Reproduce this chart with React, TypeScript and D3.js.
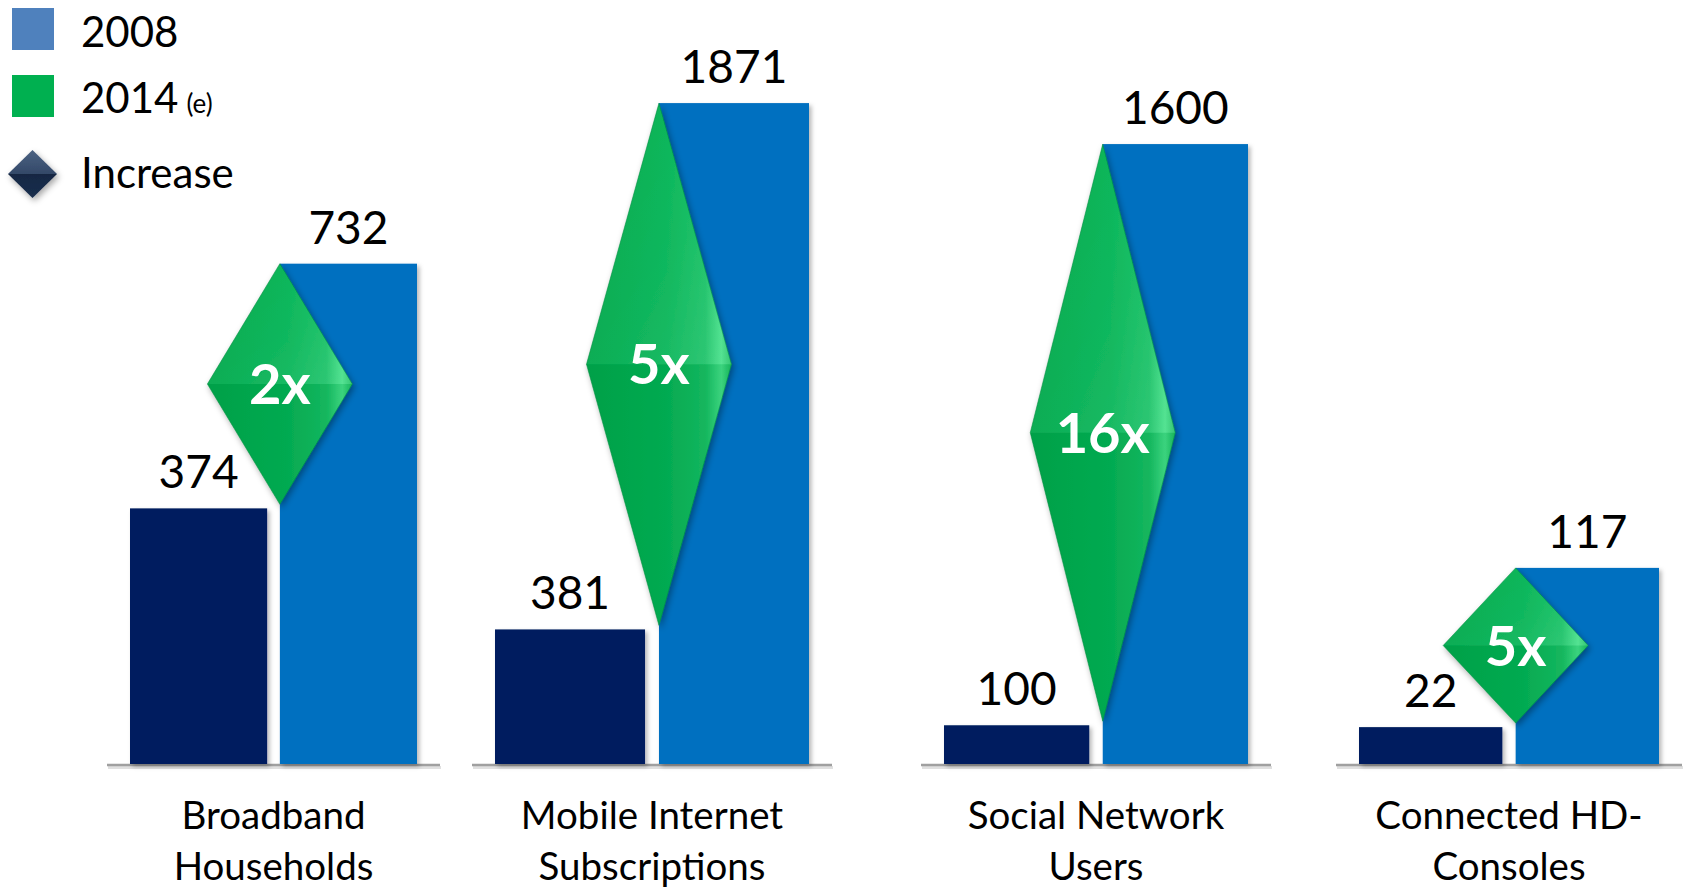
import React from "react";
import * as d3 from "d3";

// Two-period comparison per market, each panel on its own scale
const categories: string[][] = [
  ["Broadband", "Households"],
  ["Mobile Internet", "Subscriptions"],
  ["Social Network", "Users"],
  ["Connected HD-", "Consoles"],
];
const series = ["2008", "2014"];
const values2008 = [374, 381, 100, 22];
const values2014 = [732, 1871, 1600, 117];
const increaseLabels = ["2x", "5x", "16x", "5x"];
// upper bound of each panel's value axis
const axisMax = [1030, 1993, 1817, 420];

const legendItems = [
  { label: "2008", note: "" },
  { label: "2014", note: "(e)" },
  { label: "Increase", note: "" },
];

const W = 1688;
const H = 889;
const BASE_Y = 764;
const TOP_Y = 60;
// horizontal extent of the bar pair in each panel
const PANEL_X: [number, number][] = [
  [130, 417],
  [495, 809],
  [944, 1248],
  [1359, 1659],
];
const AXIS_OVERHANG = 23;
const DIAMOND_W = 145;

const COLOR_2008 = "#001F5F";
const COLOR_2014 = "#0070C0";
const FONT = "Lato, 'Open Sans', sans-serif";

function Diamond({ cx, yTop, yBot, w, id }: { cx: number; yTop: number; yBot: number; w: number; id: string }) {
  const cy = (yTop + yBot) / 2;
  const hw = w / 2;
  const full = `${cx},${yTop} ${cx + hw},${cy} ${cx},${yBot} ${cx - hw},${cy}`;
  const upper = `${cx},${yTop} ${cx + hw},${cy} ${cx - hw},${cy}`;
  const lower = `${cx - hw},${cy} ${cx + hw},${cy} ${cx},${yBot}`;
  return (
    <g filter="url(#shadowDiamond)">
      <polygon points={full} fill={`url(#gemGrad${id})`} />
      <polygon points={upper} fill="url(#gemUpper)" />
      <polygon points={lower} fill="#000" opacity={0.05} />
      <polygon points={full} fill="none" stroke="#008a3c" strokeOpacity={0.5} strokeWidth={1} />
    </g>
  );
}

export default function App() {
  const panels = categories.map((cat, i) => {
    const x = d3
      .scaleBand<string>()
      .domain(series)
      .range(PANEL_X[i])
      .paddingInner(0.085)
      .paddingOuter(0);
    const y = d3.scaleLinear().domain([0, axisMax[i]]).range([BASE_Y, TOP_Y]);
    return { cat, x, y, v: [values2008[i], values2014[i]], inc: increaseLabels[i], i };
  });

  return (
    <svg
      width={W}
      height={H}
      viewBox={`0 0 ${W} ${H}`}
      style={{ position: "absolute", left: 0, top: 0, background: "#fff" }}
      fontFamily={FONT}
    >
      <defs>
        <filter id="shadowBar" x="-10%" y="-10%" width="130%" height="130%">
          <feDropShadow dx={2.5} dy={2.5} stdDeviation={2} floodColor="#000" floodOpacity={0.28} />
        </filter>
        <filter id="shadowDiamond" x="-20%" y="-20%" width="150%" height="150%">
          <feDropShadow dx={2} dy={3} stdDeviation={3} floodColor="#000" floodOpacity={0.35} />
        </filter>
        {panels.map((p) => (
          <linearGradient key={p.i} id={`gemGrad${p.i}`} x1="0" y1="0" x2="1" y2="0">
            <stop offset="0" stopColor="#00A94D" />
            <stop offset="0.55" stopColor="#05B456" />
            <stop offset="0.82" stopColor="#15C063" />
            <stop offset="0.93" stopColor="#3FDF85" />
            <stop offset="1" stopColor="#18BD5F" />
          </linearGradient>
        ))}
        <linearGradient id="gemUpper" x1="0" y1="0" x2="1" y2="1">
          <stop offset="0" stopColor="#ffffff" stopOpacity={0.0} />
          <stop offset="0.6" stopColor="#ffffff" stopOpacity={0.05} />
          <stop offset="1" stopColor="#ffffff" stopOpacity={0.12} />
        </linearGradient>
        <linearGradient id="navyGem" x1="0" y1="0" x2="0" y2="1">
          <stop offset="0" stopColor="#3D5678" />
          <stop offset="0.5" stopColor="#22395C" />
          <stop offset="0.5" stopColor="#142743" />
          <stop offset="1" stopColor="#1B2F4E" />
        </linearGradient>
      </defs>

      {/* Legend */}
      <g>
        <rect x={12} y={8} width={42} height={42} fill="#4F81BD" />
        <rect x={12} y={75} width={42} height={42} fill="#00B050" />
        <g filter="url(#shadowDiamond)">
          <polygon points="32.5,150 57,174 32.5,198 8,174" fill="url(#navyGem)" />
          <polygon points="32.5,150 57,174 8,174" fill="#fff" opacity={0.08} />
        </g>
        {legendItems.map((d, k) => (
          <text key={d.label} x={81} y={[47, 113, 188][k]} fontSize={42} fill="#000">
            {d.label}
            {d.note && (
              <tspan fontSize={26} dx={8}>
                {d.note}
              </tspan>
            )}
          </text>
        ))}
      </g>

      {panels.map((p) => {
        const [x0, x1] = PANEL_X[p.i];
        const bw = p.x.bandwidth();
        const yTop = p.y(p.v[1]);
        const yBot = p.y(p.v[0]) - 4;
        const cx = p.x(series[1])!;
        const cy = (yTop + yBot) / 2;
        return (
          <g key={p.i}>
            {/* baseline with a soft shadow underneath */}
            <line
              x1={x0 - AXIS_OVERHANG + 1}
              x2={x1 + AXIS_OVERHANG + 1}
              y1={BASE_Y + 3.5}
              y2={BASE_Y + 3.5}
              stroke="#000"
              strokeOpacity={0.12}
              strokeWidth={3}
            />
            <line
              x1={x0 - AXIS_OVERHANG}
              x2={x1 + AXIS_OVERHANG}
              y1={BASE_Y + 1}
              y2={BASE_Y + 1}
              stroke="#A0A0A0"
              strokeWidth={2.5}
            />
            {series.map((s, k) => (
              <rect
                key={s}
                x={p.x(s)}
                y={p.y(p.v[k])}
                width={bw}
                height={BASE_Y - p.y(p.v[k])}
                fill={k === 0 ? COLOR_2008 : COLOR_2014}
                filter="url(#shadowBar)"
              />
            ))}
            <Diamond cx={cx} yTop={yTop} yBot={yBot} w={DIAMOND_W} id={String(p.i)} />
            <text
              x={cx}
              y={cy + 20}
              textAnchor="middle"
              fontSize={56}
              fontWeight={700}
              fill="#fff"
            >
              {p.inc}
            </text>
            {series.map((s, k) => (
              <text
                key={s}
                x={p.x(s)! + bw / 2}
                y={p.y(p.v[k]) - 20}
                textAnchor="middle"
                fontSize={46}
                fill="#000"
              >
                {p.v[k]}
              </text>
            ))}
            {p.cat.map((line, j) => (
              <text
                key={j}
                x={(x0 + x1) / 2}
                y={829 + j * 51}
                textAnchor="middle"
                fontSize={38.5}
                fill="#000"
              >
                {line}
              </text>
            ))}
          </g>
        );
      })}
    </svg>
  );
}
